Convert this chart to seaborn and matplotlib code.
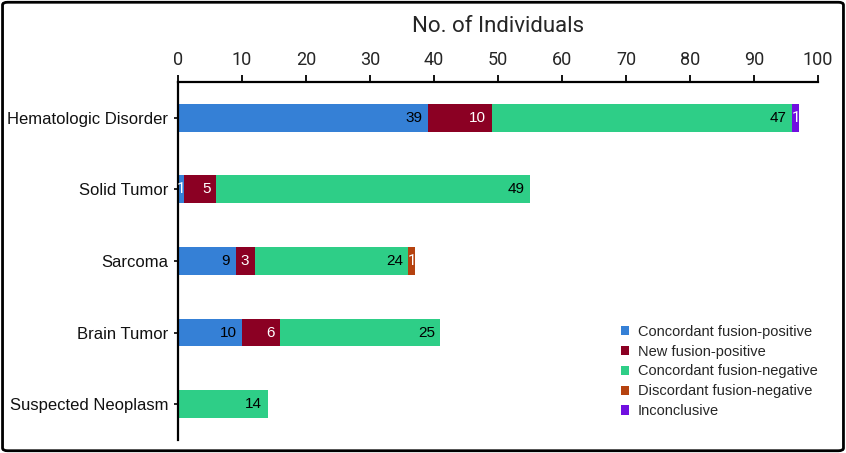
import matplotlib
matplotlib.use("Agg")
import matplotlib.pyplot as plt
import seaborn as sns
import pandas as pd
import numpy as np
from matplotlib.patches import FancyBboxPatch, Patch

# categories and counts per outcome
categories = ["Hematologic Disorder", "Solid Tumor", "Sarcoma", "Brain Tumor", "Suspected Neoplasm"]
series_names = ["Concordant fusion-positive", "New fusion-positive", "Concordant fusion-negative",
                "Discordant fusion-negative", "Inconclusive"]
concordant_pos = [39, 1, 9, 10, 0]
new_pos = [10, 5, 3, 6, 0]
concordant_neg = [47, 49, 24, 25, 14]
discordant_neg = [0, 0, 1, 0, 0]
inconclusive = [1, 0, 0, 0, 0]
x_ticks = [0, 10, 20, 30, 40, 50, 60, 70, 80, 90, 100]

colors = ["#3580D6", "#8B0023", "#2ECE87", "#B5420F", "#7010E0"]
label_colors = ["black", "white", "black", "white", "white"]

sns.set_theme(style="white")
plt.rcParams["font.family"] = ["Liberation Sans", "DejaVu Sans"]
narrow = ["Liberation Sans Narrow", "Roboto", "DejaVu Sans"]

values = [concordant_pos, new_pos, concordant_neg, discordant_neg, inconclusive]
df = pd.DataFrame(dict(zip(series_names, values)), index=categories)
cum = df.cumsum(axis=1)

fig = plt.figure(figsize=(8.46, 4.53), dpi=100)
ax = fig.add_axes([0.2104, 0.029, 0.7565, 0.79])

# draw cumulative totals from the outermost segment inward so they stack
for i in range(len(series_names) - 1, -1, -1):
    sns.barplot(x=cum.iloc[:, i].values, y=categories, orient="h", color=colors[i],
                width=0.39, ax=ax, saturation=1, linewidth=0)

# segment labels
for r, cat in enumerate(categories):
    left = 0
    for i, name in enumerate(series_names):
        v = df.loc[cat, name]
        if v > 0:
            right = left + v
            if v <= 1.5:
                ax.text(left + v / 2, r, str(v), ha="center", va="center", fontsize=11,
                        color="white", family=narrow)
            else:
                ax.annotate(str(v), xy=(right, r), xytext=(-4, 0), textcoords="offset points",
                            ha="right", va="center", fontsize=11, color=label_colors[i],
                            family=["Liberation Sans", "DejaVu Sans"])
            left = right

ax.set_xlim(0, 100)
ax.set_ylim(4.5, -0.5)
ax.xaxis.tick_top()
ax.xaxis.set_label_position("top")
ax.set_xticks(x_ticks)
ax.set_xticklabels([str(t) for t in x_ticks], family=narrow, fontsize=13)
ax.set_xlabel("No. of Individuals", family=narrow, fontsize=16, labelpad=14)
ax.set_ylabel("")
ax.tick_params(axis="x", direction="out", length=5, width=1.3, color="black", pad=4, top=True)
ax.tick_params(axis="y", direction="out", length=3, width=1.2, color="black", labelsize=12, pad=4, left=True)
for lab in ax.get_yticklabels():
    lab.set_color("#111111")
for s in ["right", "bottom"]:
    ax.spines[s].set_visible(False)
for s in ["top", "left"]:
    ax.spines[s].set_color("black")
    ax.spines[s].set_linewidth(1.6)

handles = [Patch(facecolor=c, edgecolor="none", label=n) for c, n in zip(colors, series_names)]
fig.legend(handles=handles, loc="upper left", bbox_to_anchor=(0.718, 0.312), frameon=False,
           fontsize=10.5, handlelength=0.6, handleheight=0.6, handletextpad=0.6, labelspacing=0.4)

frame = FancyBboxPatch((0.003, 0.005), 0.994, 0.99, boxstyle="round,pad=0,rounding_size=0.006",
                       transform=fig.transFigure, fill=False, edgecolor="black", linewidth=2)
fig.patches.append(frame)

fig.savefig("out.png", dpi=100)
